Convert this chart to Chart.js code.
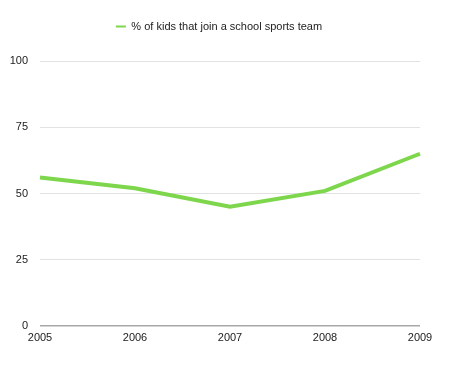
<!DOCTYPE html>
<html>
<head>
<meta charset="utf-8">
<script src="https://cdn.jsdelivr.net/npm/chart.js@4"></script>
<style>
    body { margin: 0; background: #fff; }
</style>
</head>
<body>
<canvas id="sportsChart" width="450" height="373"></canvas>
<script>
const years = ['2005', '2006', '2007', '2008', '2009'];
const teamPercent = [56, 52, 45, 51, 65];
const seriesLabel = '% of kids that join a school sports team';
const yTicks = [0, 25, 50, 75, 100];

const lineGreen = '#7dd64c';
const labelFont = { size: 11, family: 'Liberation Sans, Helvetica, Arial, sans-serif' };

// push the plot down below the legend and nudge legend to the right
const legendSpacing = {
    id: 'legendSpacing',
    beforeInit(chart) {
        const fit = chart.legend.fit;
        chart.legend.fit = function () {
            fit.call(this);
            this.height += 19;
        };
    },
    afterLayout(chart) {
        chart.legend.left += 9;
        chart.legend.right += 9;
    },
};

new Chart(document.getElementById('sportsChart').getContext('2d'), {
    type: 'line',
    data: {
        labels: years,
        datasets: [
            {
                label: seriesLabel,
                data: teamPercent,
                borderColor: lineGreen,
                backgroundColor: lineGreen,
                borderWidth: 4,
                pointRadius: 0,
                tension: 0,
            },
        ],
    },
    options: {
        responsive: false,
        animation: false,
        layout: { padding: { top: 11, right: 30, left: 0, bottom: 0 } },
        plugins: {
            legend: {
                labels: {
                    boxWidth: 10,
                    boxHeight: 2,
                    color: '#222',
                    font: labelFont,
                    padding: 10,
                    generateLabels: (chart) =>
                        Chart.defaults.plugins.legend.labels
                            .generateLabels(chart)
                            .map((item) => ({ ...item, lineWidth: 0, fillStyle: lineGreen })),
                },
            },
            tooltip: { enabled: false },
        },
        scales: {
            x: {
                offset: false,
                grid: { display: false, drawTicks: false },
                border: { display: false },
                ticks: {
                    color: '#222',
                    maxRotation: 0,
                    padding: 5,
                    font: labelFont,
                },
                afterFit: (scale) => { scale.height = 47; },
            },
            y: {
                min: 0,
                max: 100,
                afterBuildTicks: (scale) => {
                    scale.ticks = yTicks.map((v) => ({ value: v }));
                },
                grid: {
                    color: (ctx) => (ctx.tick && ctx.tick.value === 0 ? '#a8a8a8' : '#e2e2e2'),
                    lineWidth: (ctx) => (ctx.tick && ctx.tick.value === 0 ? 1.5 : 1),
                    drawTicks: false,
                },
                border: { display: false },
                ticks: {
                    color: '#222',
                    padding: 12,
                    font: labelFont,
                },
                afterFit: (scale) => { scale.width = 40; },
            },
        },
    },
    plugins: [legendSpacing],
});
</script>
</body>
</html>
